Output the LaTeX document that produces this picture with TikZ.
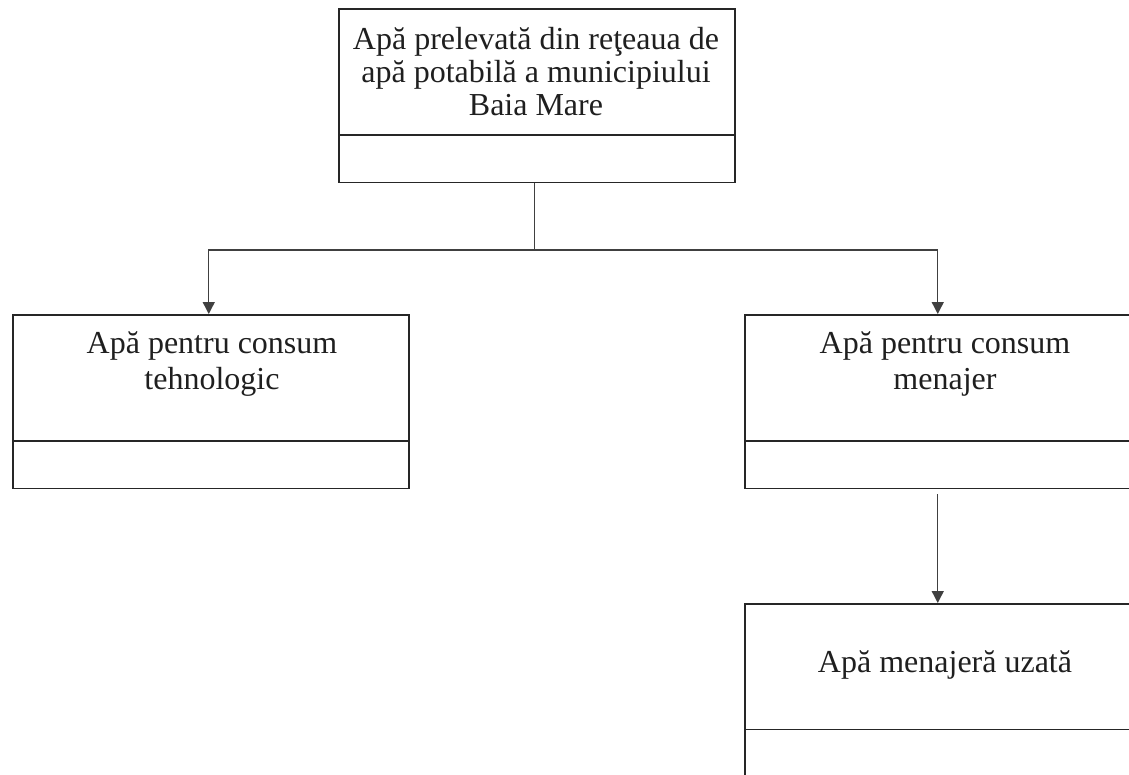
\documentclass[tikz,border=0pt]{standalone}
\usepackage{fontspec}
\setmainfont{Liberation Serif}
\usetikzlibrary{arrows.meta}
\begin{document}
\begin{tikzpicture}[x=1pt,y=-1pt,
  box/.style={draw=black!85, line width=1.5pt, minimum width=396pt, minimum height=173.7pt, anchor=north west, inner sep=0pt},
  divider/.style={draw=black!85, line width=1.5pt},
  txt/.style={text=black!88, font=\fontsize{32}{36}\selectfont, align=center, anchor=base, inner sep=0pt},
  wire/.style={draw=black!75, line width=1.4pt},
  arr/.style={wire, -{Triangle[width=12pt,length=12pt]}}]
\path[use as bounding box] (0,0) rectangle (1129,774);
\clip (0,0) rectangle (1129,774);
% boxes
\node[box] (top) at (338,8) {};
\node[box] (left) at (12,314) {};
\node[box, minimum width=398pt] (right) at (744,314) {};
\node[box, minimum width=398pt] (bottom) at (744,603) {};
% dividers
\draw[divider] ([yshift=-127pt]top.north west) -- ([yshift=-127pt]top.north east);
\draw[divider] ([yshift=-127pt]left.north west) -- ([yshift=-127pt]left.north east);
\draw[divider] ([yshift=-127pt]right.north west) -- ([yshift=-127pt]right.north east);
\draw[divider] ([yshift=-126.5pt]bottom.north west) -- ([yshift=-126.5pt]bottom.north east);
% texts (anchored at the baseline of the last line)
\node[txt, font=\fontsize{32}{33}\selectfont] (toptxt) at (536,115.5) {Apă prelevată din reţeaua de\\apă potabilă a municipiului\\Baia Mare};
\node[txt] (lefttxt) at (212,389) {Apă pentru consum\\tehnologic};
\node[txt] (righttxt) at (945,389) {Apă pentru consum\\menajer};
\node[txt] (bottomtxt) at (945,672.7) {Apă menajeră uzată};
% connectors
\draw[wire] ([xshift=-2pt]top.south) -- ([xshift=-2pt]top.south |- 0,250) coordinate (j);
\draw[arr] (j) -| ([xshift=-2pt]left.north);
\draw[arr] (j) -| ([xshift=-6pt]right.north);
\draw[arr] ([xshift=-6pt,yshift=-5pt]right.south) -- ([xshift=-6pt]bottom.north);
\end{tikzpicture}
\end{document}
